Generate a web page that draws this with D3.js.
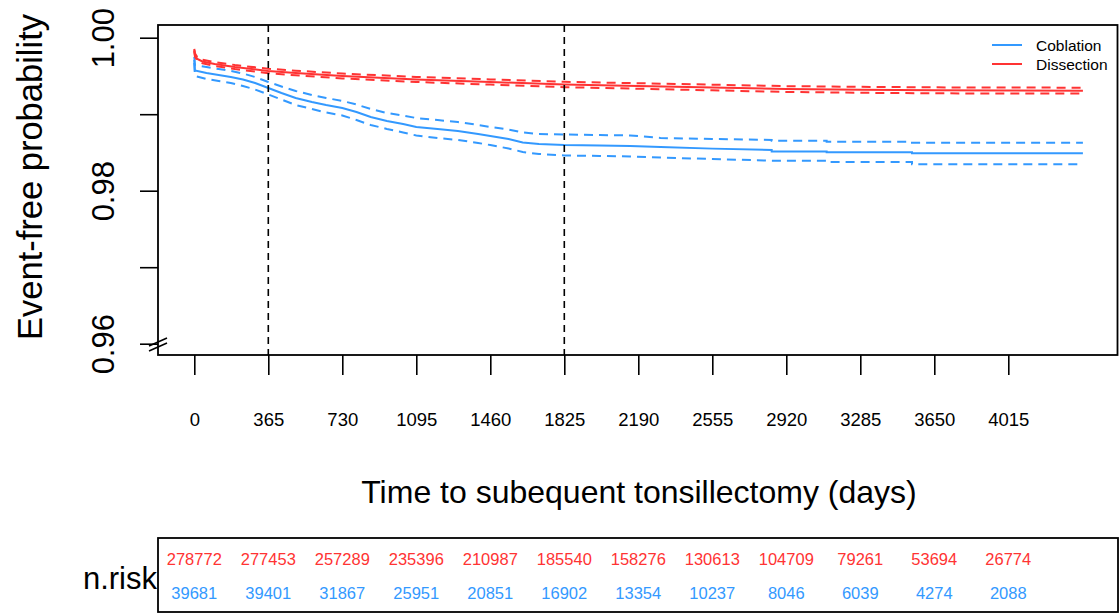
<!DOCTYPE html>
<html>
<head>
<meta charset="utf-8">
<script src="https://cdn.jsdelivr.net/npm/d3@7"></script>
<style>
  body { margin: 0; background: #fff; }
  svg { font-family: "Liberation Sans", Arial, Helvetica, sans-serif; }
</style>
</head>
<body>
<div id="chart"></div>
<script>
// Tick values
let xTicks = [0, 365, 730, 1095, 1460, 1825, 2190, 2555, 2920, 3285, 3650, 4015];
let yTicks = [0.96, 0.97, 0.98, 0.99, 1.00];
let yLabels = [0.96, 0.98, 1.00];
let markTimes = [365, 1825];

// Coblation curve
let cobTimes = [0, 3, 60, 120, 180, 240, 300, 365, 430, 500, 580, 650, 730, 800, 870, 950, 1030, 1095,
                1200, 1300, 1400, 1460, 1550, 1620, 1700, 1825, 2000, 2150, 2300, 2555,
                2848, 2848, 3119, 3119, 3540, 3540, 4383];
let cobSurv = [0.99708, 0.99571, 0.99539, 0.99512, 0.99486, 0.99454, 0.99408, 0.99342, 0.99277, 0.99212,
               0.99159, 0.99120, 0.99081, 0.99029, 0.98963, 0.98911, 0.98872, 0.98833, 0.98807, 0.98780,
               0.98741, 0.98715, 0.98676, 0.98630, 0.98610, 0.98597, 0.98591, 0.98584, 0.98571, 0.98550,
               0.98533, 0.98512, 0.98512, 0.98502, 0.98502, 0.98489, 0.98489];
let cobUpper = [0.99748, 0.99643, 0.99617, 0.99591, 0.99565, 0.99532, 0.99486, 0.99421, 0.99362, 0.99303,
                0.99251, 0.99212, 0.99173, 0.99127, 0.99068, 0.99016, 0.98983, 0.98950, 0.98924, 0.98898,
                0.98859, 0.98833, 0.98800, 0.98761, 0.98741, 0.98735, 0.98728, 0.98722, 0.98689, 0.98676,
                0.98663, 0.98654, 0.98654, 0.98641, 0.98641, 0.98627, 0.98627];
let cobLower = [0.99669, 0.99499, 0.99460, 0.99434, 0.99408, 0.99369, 0.99323, 0.99258, 0.99192, 0.99120,
                0.99068, 0.99022, 0.98983, 0.98924, 0.98859, 0.98807, 0.98761, 0.98722, 0.98689, 0.98663,
                0.98624, 0.98597, 0.98552, 0.98506, 0.98480, 0.98460, 0.98454, 0.98447, 0.98434, 0.98414,
                0.98392, 0.98392, 0.98392, 0.98375, 0.98375, 0.98345, 0.98345];

// Dissection curve
let disTimes = [0, 3, 15, 40, 100, 200, 365, 500, 730, 1095, 1460, 1825, 2190, 2555, 2920, 3285, 3650, 4015, 4383];
let disSurv = [0.99839, 0.99774, 0.99722, 0.99689, 0.99656, 0.99617, 0.99565, 0.99539, 0.99499, 0.99454,
               0.99421, 0.99388, 0.99369, 0.99349, 0.99329, 0.99319, 0.99312, 0.99309, 0.99308];
let disUpper = [0.99855, 0.99795, 0.99745, 0.99713, 0.99681, 0.99643, 0.99594, 0.99569, 0.99531, 0.99487,
                0.99455, 0.99423, 0.99405, 0.99386, 0.99367, 0.99358, 0.99351, 0.99348, 0.99347];
let disLower = [0.99823, 0.99753, 0.99699, 0.99665, 0.99631, 0.99591, 0.99536, 0.99509, 0.99467, 0.99421,
                0.99387, 0.99353, 0.99333, 0.99312, 0.99291, 0.99280, 0.99273, 0.99270, 0.99269];

// Numbers at risk
let riskDissection = [278772, 277453, 257289, 235396, 210987, 185540, 158276, 130613, 104709, 79261, 53694, 26774];
let riskCoblation = [39681, 39401, 31867, 25951, 20851, 16902, 13354, 10237, 8046, 6039, 4274, 2088];

let blue = '#3399ff', red = '#ff3333';

let svgWidth = 1119, svgHeight = 614;
let box = { left: 158, right: 1117.5, top: 25, bottom: 355 };

let svg = d3.select('#chart')
            .append('svg')
            .attr('width', svgWidth)
            .attr('height', svgHeight);

let xScale = d3.scaleLinear().domain([0, 4015]).range([194.3, 1008.3]);
let yScale = d3.scaleLinear().domain([0.96, 1.00]).range([343.7, 37.7]);

// Curves
let line = d3.line()
            .x(d => xScale(d[0]))
            .y(d => yScale(d[1]));

function drawCurve(times, vals, color, width, dash) {
    svg.append('path')
        .datum(times.map((t, i) => [t, vals[i]]))
        .attr('d', line)
        .attr('fill', 'none')
        .attr('stroke', color)
        .attr('stroke-width', width)
        .attr('stroke-dasharray', dash);
}

drawCurve(cobTimes, cobUpper, blue, 2, '9,6');
drawCurve(cobTimes, cobLower, blue, 2, '9,6');
drawCurve(cobTimes, cobSurv, blue, 2, null);
drawCurve(disTimes, disUpper, red, 2, '9,6');
drawCurve(disTimes, disLower, red, 2, '9,6');
drawCurve(disTimes, disSurv, red, 2, null);

// Vertical reference lines
svg.selectAll('.mark')
    .data(markTimes)
    .enter()
    .append('line')
    .attr('x1', d => xScale(d))
    .attr('x2', d => xScale(d))
    .attr('y1', box.top)
    .attr('y2', box.bottom)
    .attr('stroke', '#000')
    .attr('stroke-width', 1.6)
    .attr('stroke-dasharray', '7,5');

// Plot box
svg.append('rect')
    .attr('x', box.left)
    .attr('y', box.top)
    .attr('width', box.right - box.left)
    .attr('height', box.bottom - box.top)
    .attr('fill', 'none')
    .attr('stroke', '#000')
    .attr('stroke-width', 1.8);

// X axis
let xAxis = d3.axisBottom(xScale).tickValues(xTicks).tickSize(20).tickSizeOuter(0)
              .tickFormat(d3.format('d'));
let xg = svg.append('g')
    .attr('transform', `translate(0, ${box.bottom})`)
    .call(xAxis);
xg.select('.domain').remove();
xg.selectAll('.tick line').attr('stroke-width', 1.6);
xg.selectAll('.tick text')
    .attr('y', 71)
    .attr('dy', 0)
    .attr('font-size', 18.5)
    .attr('font-family', '"Liberation Sans", Arial, sans-serif')
    .attr('fill', '#000');

// Y axis
let yAxis = d3.axisLeft(yScale).tickValues(yTicks).tickSize(18)
              .tickFormat(d => yLabels.some(v => Math.abs(v - d) < 1e-9) ? d3.format('.2f')(d) : '');
let yg = svg.append('g')
    .attr('transform', `translate(${box.left}, 0)`)
    .call(yAxis);
yg.select('.domain').remove();
yg.selectAll('.tick line').attr('stroke-width', 1.6);
yg.selectAll('.tick text')
    .attr('x', 0)
    .attr('dy', 0)
    .attr('transform', 'translate(-44.5, 0) rotate(-90)')
    .attr('text-anchor', 'middle')
    .attr('font-size', 31)
    .attr('font-family', '"Liberation Sans", Arial, sans-serif')
    .attr('fill', '#000');

// Axis break marks
[[149, 346, 167, 338], [149, 351, 167, 343]].forEach(s => {
    svg.append('line')
        .attr('x1', s[0]).attr('y1', s[1])
        .attr('x2', s[2]).attr('y2', s[3])
        .attr('stroke', '#000')
        .attr('stroke-width', 1.5);
});

// Axis titles
svg.append('text')
    .attr('x', 639)
    .attr('y', 503)
    .attr('text-anchor', 'middle')
    .attr('font-size', 32)
    .text('Time to subequent tonsillectomy (days)');

svg.append('text')
    .attr('transform', 'translate(42, 177) rotate(-90)')
    .attr('text-anchor', 'middle')
    .attr('font-size', 34.5)
    .text('Event-free probability');

// Legend
let legend = [['Coblation', blue], ['Dissection', red]];
legend.forEach((l, i) => {
    let y = 45 + i * 19;
    svg.append('line')
        .attr('x1', 992).attr('x2', 1022)
        .attr('y1', y).attr('y2', y)
        .attr('stroke', l[1])
        .attr('stroke-width', 2);
    svg.append('text')
        .attr('x', 1036)
        .attr('y', y + 5.5)
        .attr('font-size', 15.5)
        .text(l[0]);
});

// Risk table
svg.append('rect')
    .attr('x', 158)
    .attr('y', 538)
    .attr('width', 1118 - 158)
    .attr('height', 612 - 538)
    .attr('fill', 'none')
    .attr('stroke', '#000')
    .attr('stroke-width', 1.8);

svg.append('text')
    .attr('x', 157)
    .attr('y', 589)
    .attr('text-anchor', 'end')
    .attr('font-size', 31)
    .text('n.risk');

svg.selectAll('.riskDis')
    .data(riskDissection)
    .enter()
    .append('text')
    .attr('x', (d, i) => xScale(xTicks[i]))
    .attr('y', 565)
    .attr('text-anchor', 'middle')
    .attr('font-size', 16.5)
    .attr('fill', red)
    .text(d => d);

svg.selectAll('.riskCob')
    .data(riskCoblation)
    .enter()
    .append('text')
    .attr('x', (d, i) => xScale(xTicks[i]))
    .attr('y', 598.5)
    .attr('text-anchor', 'middle')
    .attr('font-size', 16.5)
    .attr('fill', blue)
    .text(d => d);
</script>
</body>
</html>
